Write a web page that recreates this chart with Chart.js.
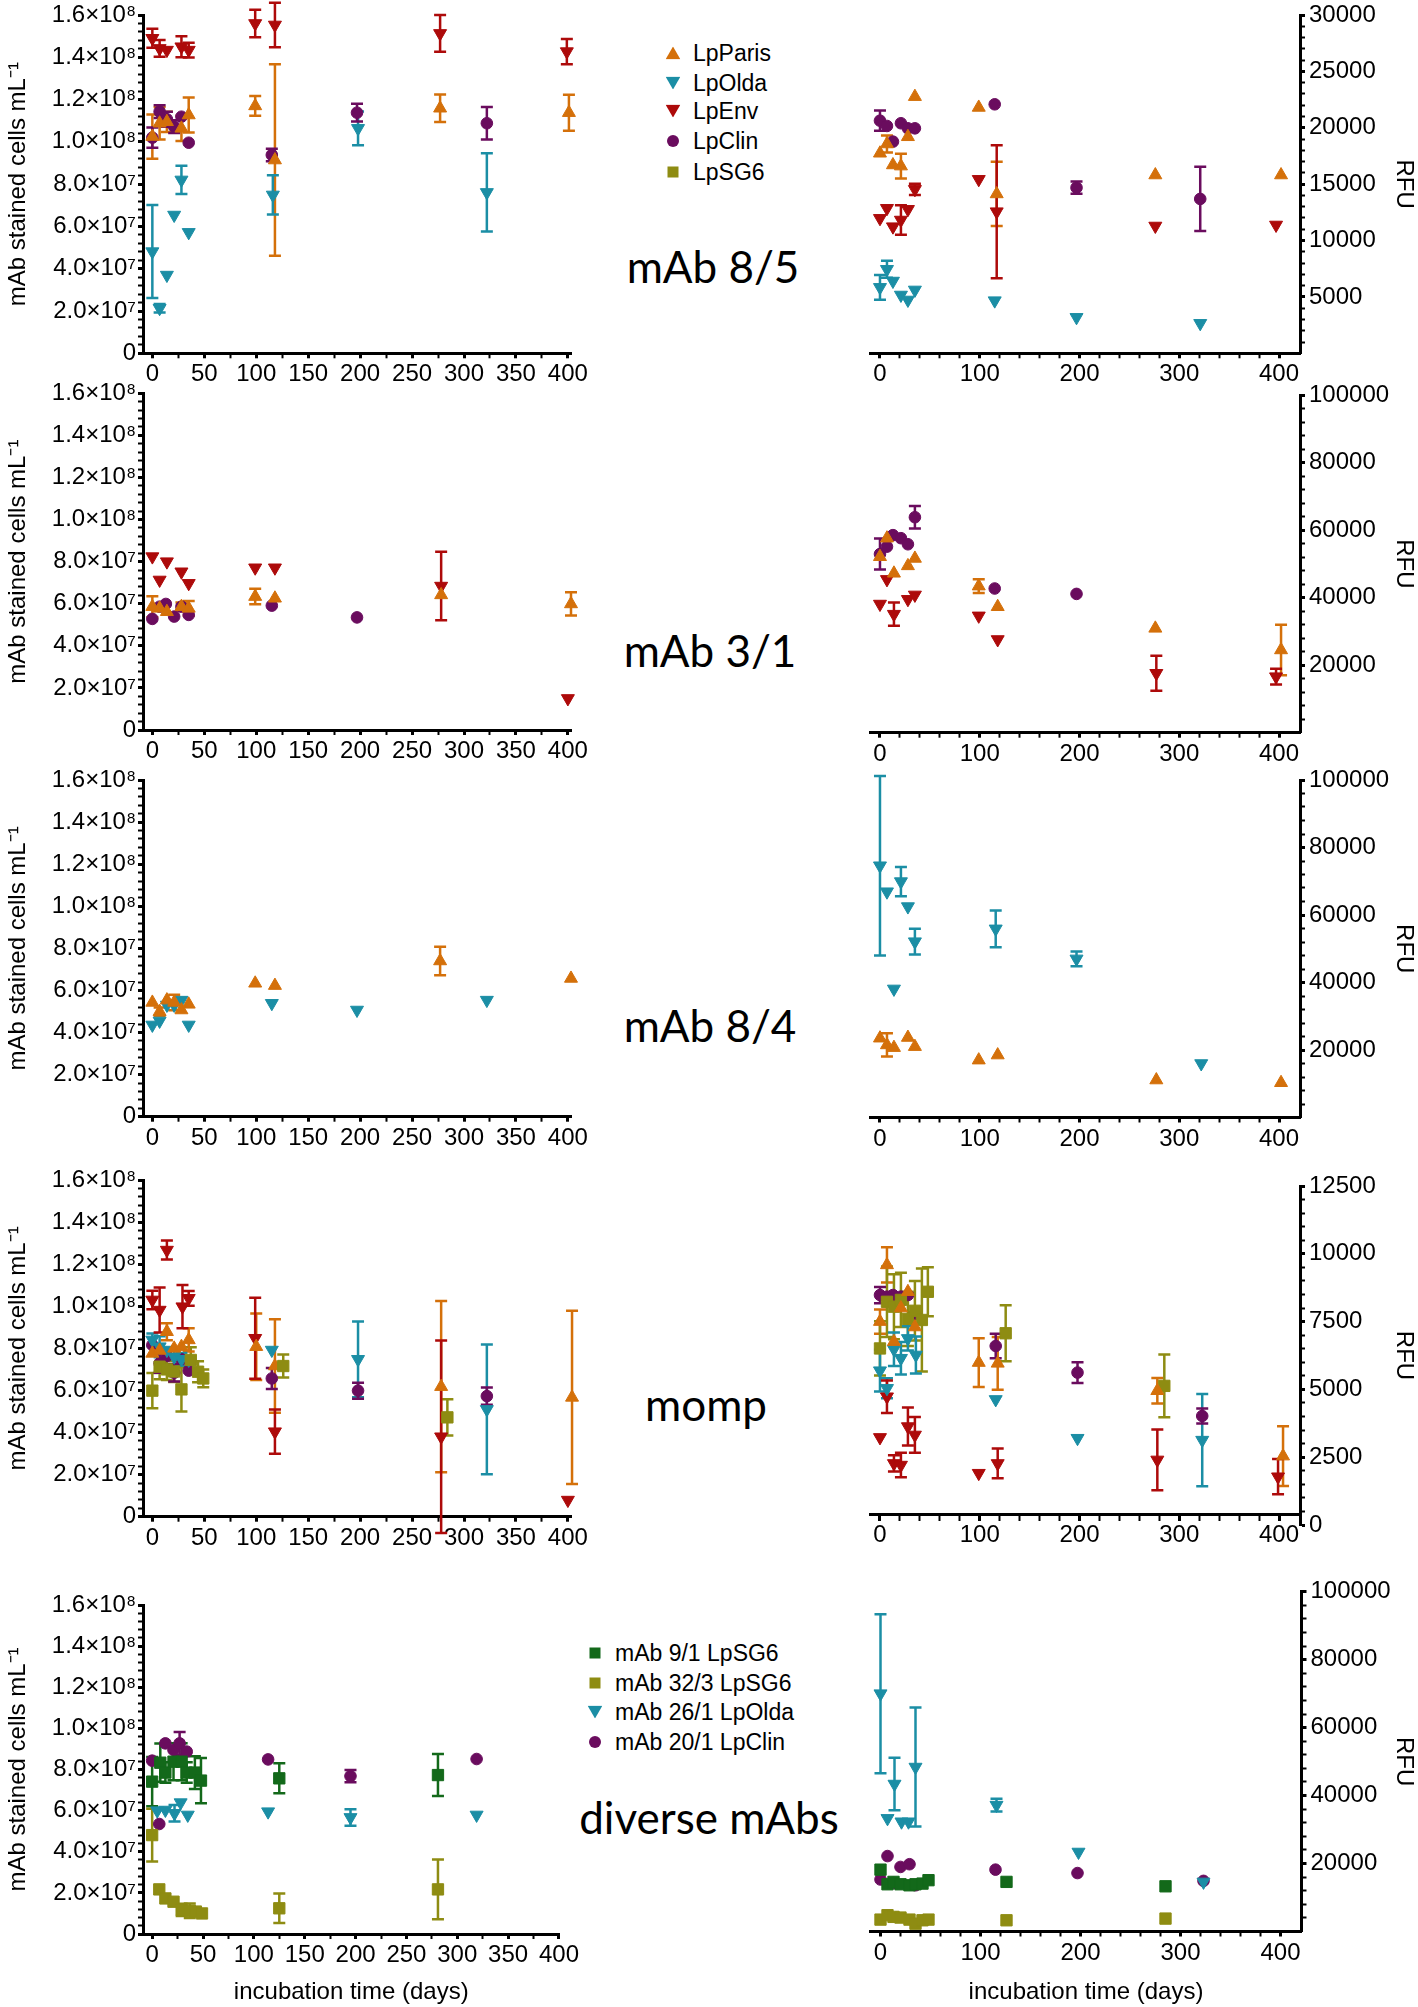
<!DOCTYPE html>
<html>
<head>
<meta charset="utf-8">
<script src="https://cdn.jsdelivr.net/npm/chart.js@4.4.1/dist/chart.umd.min.js"></script>
<style>
  html, body { margin: 0; padding: 0; background: #fff; }
  #page { position: relative; width: 1418px; height: 2007px; overflow: hidden; font-family: "Liberation Sans", Arial, sans-serif; color: #000; }
  #page canvas { position: absolute; }
  .tag { position: absolute; font-family: Lato, "Open Sans", sans-serif; font-size: 44px; line-height: 1; white-space: nowrap; transform: translate(-50%, -0.887em); }
  .leg { position: absolute; font-size: 23px; line-height: 1; white-space: nowrap; transform: translateY(-50%); }
  .sym { position: absolute; transform: translate(-50%, -50%); }
  .up { width: 15px; height: 13px; clip-path: polygon(50% 0, 100% 100%, 0 100%); }
  .down { width: 15px; height: 13px; clip-path: polygon(0 0, 100% 0, 50% 100%); }
  .dot { width: 12px; height: 12px; border-radius: 50%; }
  .sq { width: 11px; height: 11px; }
</style>
</head>
<body>
<div id="page">
  <div class="tag" style="left:713px;top:283px">mAb 8/5</div>
  <div class="tag" style="left:710px;top:667px">mAb 3/1</div>
  <div class="tag" style="left:710px;top:1042px">mAb 8/4</div>
  <div class="tag" style="left:706px;top:1421px">momp</div>
  <div class="tag" style="left:709px;top:1834px">diverse mAbs</div>

  <div class="sym up" style="left:673px;top:53px;background:#D4700A"></div>
  <div class="leg" style="left:693px;top:53px">LpParis</div>
  <div class="sym down" style="left:673px;top:83px;background:#1B8EA5"></div>
  <div class="leg" style="left:693px;top:83px">LpOlda</div>
  <div class="sym down" style="left:673px;top:111px;background:#AD0A0A"></div>
  <div class="leg" style="left:693px;top:111px">LpEnv</div>
  <div class="sym dot" style="left:673px;top:141px;background:#6A0C5E"></div>
  <div class="leg" style="left:693px;top:141px">LpClin</div>
  <div class="sym sq" style="left:673px;top:172px;background:#8E8C12"></div>
  <div class="leg" style="left:693px;top:172px">LpSG6</div>

  <div class="sym sq" style="left:595px;top:1653px;background:#13691A"></div>
  <div class="leg" style="left:615px;top:1653px">mAb 9/1 LpSG6</div>
  <div class="sym sq" style="left:595px;top:1683px;background:#8E8C12"></div>
  <div class="leg" style="left:615px;top:1683px">mAb 32/3 LpSG6</div>
  <div class="sym down" style="left:595px;top:1712px;background:#1B8EA5"></div>
  <div class="leg" style="left:615px;top:1712px">mAb 26/1 LpOlda</div>
  <div class="sym dot" style="left:595px;top:1742px;background:#6A0C5E"></div>
  <div class="leg" style="left:615px;top:1742px">mAb 20/1 LpClin</div>
</div>

<script>
// cells in units of 1e7 per mL, RFU in units of 1000; SD = half length of the error bar

// mAb 8/5 - cells
const p85cParisDay = [0, 7, 14, 28, 35, 99, 118, 277, 401];
const p85cParisVal = [10.25, 10.88, 10.95, 10.64, 11.27, 11.7, 9.14, 11.59, 11.38];
const p85cParisSd  = [1.05, 0.77, 0.48, 0.6, 0.83, 0.47, 4.53, 0.65, 0.85];
const p85cOldaDay  = [0, 7, 14, 21, 28, 35, 116, 198, 322];
const p85cOldaVal  = [4.81, 2.13, 3.7, 6.54, 8.2, 5.72, 7.49, 10.64, 7.61];
const p85cOldaSd   = [2.2, 0.2, 0, 0, 0.67, 0, 0.93, 0.8, 1.85];
const p85cEnvDay   = [0, 7, 14, 28, 35, 99, 118, 277, 399];
const p85cEnvVal   = [14.9, 14.42, 14.34, 14.5, 14.34, 15.6, 15.53, 15.13, 14.27];
const p85cEnvSd    = [0.45, 0.4, 0, 0.5, 0.35, 0.65, 1.05, 0.87, 0.6];
const p85cClinDay  = [0, 7, 14, 21, 28, 35, 115, 197, 322];
const p85cClinVal  = [10.2, 11.43, 11.07, 10.72, 11.19, 9.96, 9.38, 11.38, 10.88];
const p85cClinSd   = [0.48, 0.3, 0.35, 0.3, 0, 0, 0.3, 0.42, 0.77];

// mAb 8/5 - RFU
const p85fParisDay = [0, 7, 13, 21, 28, 35, 99, 117, 276, 402];
const p85fParisVal = [17.74, 18.56, 16.7, 16.6, 19.2, 22.76, 21.8, 14.13, 15.81, 15.81];
const p85fParisSd  = [0, 0.75, 0, 1.1, 0, 0, 0, 2.85, 0, 0];
const p85fOldaDay  = [0, 7, 13, 21, 28, 35, 115, 197, 321];
const p85fOldaVal  = [5.85, 7.45, 6.41, 5.17, 4.73, 5.62, 4.67, 3.19, 2.66];
const p85fOldaSd   = [1.1, 0.75, 0, 0, 0, 0, 0, 0, 0];
const p85fEnvDay   = [0, 7, 13, 21, 28, 35, 99, 117, 276, 397];
const p85fEnvVal   = [11.97, 12.86, 11.23, 11.82, 12.77, 14.54, 15.43, 12.56, 11.29, 11.38];
const p85fEnvSd    = [0, 0, 0, 1.3, 0, 0.5, 0, 5.9, 0, 0];
const p85fClinDay  = [0, 7, 13, 21, 28, 35, 115, 197, 321];
const p85fClinVal  = [20.63, 20.16, 18.77, 20.4, 19.95, 19.95, 22.08, 14.69, 13.69];
const p85fClinSd   = [0.9, 0, 0, 0, 0, 0, 0, 0.55, 2.85];

// mAb 3/1 - cells
const p31cParisDay = [0, 7, 14, 28, 35, 99, 118, 278, 403];
const p31cParisVal = [5.86, 5.78, 5.62, 5.86, 5.78, 6.34, 6.26, 6.42, 5.99];
const p31cParisSd  = [0.5, 0, 0, 0.2, 0.35, 0.37, 0, 0, 0.55];
const p31cEnvDay   = [0, 7, 14, 28, 35, 99, 118, 278, 400];
const p31cEnvVal   = [8.24, 7.13, 8.0, 7.52, 6.97, 7.71, 7.71, 6.84, 1.5];
const p31cEnvSd    = [0, 0, 0, 0, 0, 0, 0, 1.63, 0];
const p31cClinDay  = [0, 7, 13, 21, 28, 35, 115, 197];
const p31cClinVal  = [5.28, 5.86, 5.99, 5.39, 5.86, 5.47, 5.91, 5.35];

// mAb 3/1 - RFU
const p31fParisDay = [0, 7, 14, 28, 35, 99, 118, 276, 402];
const p31fParisVal = [52.1, 57.6, 47.2, 49.4, 51.6, 43.4, 37.3, 30.9, 24.5];
const p31fParisSd  = [0, 0, 0, 0, 0, 2.05, 0, 0, 7.5];
const p31fEnvDay   = [0, 7, 14, 28, 35, 99, 118, 277, 397];
const p31fEnvVal   = [38.1, 45.4, 35.1, 39.5, 40.8, 34.6, 27.6, 17.6, 16.6];
const p31fEnvSd    = [0, 0, 3.45, 0, 0, 0, 0, 5.2, 2.3];
const p31fClinDay  = [0, 7, 13, 21, 28, 35, 115, 197];
const p31fClinVal  = [52.9, 55.1, 58.5, 57.6, 55.8, 63.8, 42.7, 41.1];
const p31fClinSd   = [4.6, 0, 0, 0, 0, 3.35, 0, 0];

// mAb 8/4 - cells
const p84cParisDay = [0, 7, 14, 21, 28, 35, 99, 118, 277, 403];
const p84cParisVal = [5.43, 4.99, 5.54, 5.43, 5.07, 5.34, 6.34, 6.23, 7.4, 6.57];
const p84cParisSd  = [0, 0.2, 0, 0.37, 0, 0, 0, 0, 0.68, 0];
const p84cOldaDay  = [0, 7, 14, 21, 28, 35, 115, 197, 322];
const p84cOldaVal  = [4.36, 4.55, 5.31, 5.31, 5.54, 4.36, 5.39, 5.07, 5.54];

// mAb 8/4 - RFU
const p84fParisDay = [0, 7, 14, 28, 35, 99, 118, 277, 402];
const p84fParisVal = [23.5, 21.5, 20.7, 23.7, 21.0, 17.0, 18.5, 11.1, 10.3];
const p84fParisSd  = [0, 3.45, 0, 0, 0, 0, 0, 0, 0];
const p84fOldaDay  = [0, 7, 14, 21, 28, 35, 116, 197, 322];
const p84fOldaVal  = [74.6, 66.9, 38.1, 69.9, 62.5, 52.1, 55.9, 47.0, 16.0];
const p84fOldaSd   = [26.6, 0, 0, 4.35, 0, 3.8, 5.45, 2.2, 0];

// momp - cells
const pMcParisDay = [0, 7, 14, 21, 28, 35, 100, 118, 278, 404];
const pMcParisVal = [7.76, 7.9, 8.79, 8.0, 8.08, 8.4, 8.08, 7.16, 6.18, 5.67];
const pMcParisSd  = [0, 0, 0.4, 0, 0, 0.55, 1.58, 2.22, 4.07, 4.12];
const pMcOldaDay  = [0, 7, 14, 21, 28, 35, 115, 198, 322];
const pMcOldaVal  = [8.4, 8.08, 7.92, 7.6, 7.48, 7.45, 7.92, 7.48, 5.1];
const pMcOldaSd   = [0.3, 0.5, 0, 0.35, 0.3, 0, 0, 1.8, 3.08];
const pMcEnvDay   = [0, 7, 14, 29, 35, 99, 118, 278, 400];
const pMcEnvVal   = [10.3, 9.82, 12.67, 9.98, 10.38, 8.48, 4.04, 3.8, 0.79];
const pMcEnvSd    = [0.44, 1.07, 0.45, 1.03, 0.35, 1.92, 1.05, 4.57, 0];
const pMcClinDay  = [0, 7, 14, 21, 28, 35, 115, 198, 322];
const pMcClinVal  = [8.16, 7.29, 7.64, 6.84, 7.48, 6.94, 6.57, 5.99, 5.73];
const pMcClinSd   = [0, 0.45, 0, 0.42, 0, 0, 0.5, 0.38, 0.41];
const pMcSg6Day   = [0, 7, 14, 21, 28, 37, 44, 49, 126, 284];
const pMcSg6Val   = [5.99, 7.13, 7.0, 6.9, 6.05, 7.45, 6.89, 6.57, 7.16, 4.72];
const pMcSg6Sd    = [0.84, 0.6, 0.5, 0.5, 1.05, 0.6, 0.5, 0.42, 0.55, 0.86];

// momp - RFU
const pMfParisDay = [0, 7, 14, 21, 28, 35, 99, 118, 278, 404];
const pMfParisVal = [7.5, 9.59, 6.76, 8.0, 8.6, 7.3, 5.99, 5.96, 4.95, 2.54];
const pMfParisSd  = [0.45, 0.65, 0, 0, 0, 0, 0.9, 0.97, 0.47, 1.1];
const pMfOldaDay  = [0, 7, 14, 21, 28, 36, 116, 198, 323];
const pMfOldaVal  = [5.69, 5.04, 6.48, 6.15, 6.88, 6.27, 4.63, 3.2, 3.13];
const pMfOldaSd   = [0.77, 0.37, 0.62, 0.6, 0.45, 0.68, 0, 0, 1.7];
const pMfEnvDay   = [0, 7, 14, 21, 28, 35, 99, 118, 278, 399];
const pMfEnvVal   = [3.23, 4.73, 2.27, 2.21, 3.63, 3.32, 1.91, 2.27, 2.4, 1.78];
const pMfEnvSd    = [0, 0.6, 0.3, 0.45, 0.7, 0.66, 0, 0.55, 1.12, 0.65];
const pMfClinDay  = [0, 7, 13, 21, 28, 35, 116, 198, 323];
const pMfClinVal  = [8.48, 8.42, 8.48, 8.42, 8.48, 7.78, 6.6, 5.62, 4.02];
const pMfClinSd   = [0.3, 0, 0, 0, 0, 0, 0.45, 0.38, 0.28];
const pMfSg6Day   = [0, 7, 14, 21, 28, 35, 42, 48, 126, 285];
const pMfSg6Val   = [6.51, 8.23, 8.05, 8.3, 7.6, 7.9, 7.56, 8.6, 7.07, 5.13];
const pMfSg6Sd    = [1.0, 1.3, 1.2, 1.0, 1.0, 1.1, 1.9, 0.9, 1.03, 1.16];

// diverse mAbs - cells
const pDcG91Day  = [0, 8, 13, 21, 29, 34, 42, 48, 125, 281];
const pDcG91Val  = [7.41, 8.33, 7.85, 8.38, 8.38, 7.85, 7.85, 7.46, 7.57, 7.73];
const pDcG91Sd   = [1.2, 0.93, 0.5, 0.9, 0.9, 0.5, 0.8, 1.1, 0.73, 1.02];
const pDcO323Day = [0, 7, 13, 21, 29, 37, 43, 49, 125, 281];
const pDcO323Val = [4.81, 2.17, 1.73, 1.57, 1.17, 1.13, 1.09, 1.0, 1.25, 2.17];
const pDcO323Sd  = [1.28, 0, 0, 0, 0.3, 0.35, 0, 0, 0.72, 1.45];
const pDcOldaDay = [5, 13, 22, 28, 35, 114, 195, 319];
const pDcOldaVal = [6.0, 6.03, 5.87, 6.39, 5.79, 5.95, 5.67, 5.79];
const pDcOldaSd  = [0, 0, 0.4, 0, 0, 0, 0.4, 0];
const pDcClinDay = [0, 7, 13, 21, 27, 34, 114, 195, 319];
const pDcClinVal = [8.43, 5.35, 9.27, 8.95, 9.27, 8.87, 8.49, 7.68, 8.51];
const pDcClinSd  = [0, 0, 0, 0, 0.55, 0, 0, 0.3, 0];

// diverse mAbs - RFU
const pDfOldaDay = [0, 7, 14, 21, 28, 35, 116, 198, 323];
const pDfOldaVal = [70.0, 33.3, 43.4, 32.3, 32.3, 48.4, 37.2, 23.4, 14.6];
const pDfOldaSd  = [23.4, 0, 7.7, 0, 0, 17.5, 1.9, 0, 0];
const pDfClinDay = [0, 7, 13, 20, 29, 35, 115, 197, 323];
const pDfClinVal = [15.3, 22.2, 14.3, 19.0, 19.8, 13.6, 18.2, 17.2, 14.9];
const pDfG91Day  = [0, 7, 13, 20, 29, 35, 42, 48, 126, 285];
const pDfG91Val  = [18.2, 13.9, 14.6, 13.9, 13.6, 13.9, 14.1, 15.1, 14.6, 13.3];
const pDfO323Day = [0, 7, 13, 20, 29, 35, 42, 48, 126, 285];
const pDfO323Val = [3.5, 4.8, 4.3, 4.1, 3.5, 2.3, 3.3, 3.5, 3.3, 3.8];

// tick labels
const cellTickVals = [0, 2, 4, 6, 8, 10, 12, 14, 16];
const cellTickText = ['0', '2.0×10⁷', '4.0×10⁷', '6.0×10⁷', '8.0×10⁷', '1.0×10⁸', '1.2×10⁸', '1.4×10⁸', '1.6×10⁸'];
const leftDayVals = [0, 50, 100, 150, 200, 250, 300, 350, 400];
const leftDayText = ['0', '50', '100', '150', '200', '250', '300', '350', '400'];
const rightDayVals = [0, 100, 200, 300, 400];
const rightDayText = ['0', '100', '200', '300', '400'];
const rfu85Vals = [5, 10, 15, 20, 25, 30];
const rfu85Text = ['5000', '10000', '15000', '20000', '25000', '30000'];
const rfu100Vals = [20, 40, 60, 80, 100];
const rfu100Text = ['20000', '40000', '60000', '80000', '100000'];
const rfuMompVals = [0, 2.5, 5, 7.5, 10, 12.5];
const rfuMompText = ['0', '2500', '5000', '7500', '10000', '12500'];

// ---------- styles ----------
const FONT = '"Liberation Sans", Arial, sans-serif';
Chart.defaults.font.family = FONT;
const COL = { paris: '#D4700A', olda: '#1B8EA5', env: '#AD0A0A', clin: '#6A0C5E', sg6: '#8E8C12', g91: '#13691A' };
const MARK = {
  paris: ['triangle', 0, 7.5], olda: ['triangle', 180, 7.5], env: ['triangle', 180, 7.5],
  clin: ['circle', 0, 5.8], sg6: ['rect', 0, 8], g91: ['rect', 0, 8]
};
const TICK_FONT = { family: FONT, size: 24, lineHeight: 1.2 };
const TITLE_FONT = { family: FONT, size: 24, lineHeight: 1.2 };
const GRID = { drawOnChartArea: false, drawTicks: true, tickLength: 5, tickColor: '#000',
  tickWidth: c => (c.tick && c.tick.major ? 3 : 2) };
const BORDER = { display: true, color: '#000', width: 3 };

function series(key, day, val, sd) {
  const [ps, rot, r] = MARK[key];
  return {
    data: day.map((d, i) => ({ x: d, y: val[i] })), sd: sd || null,
    pointStyle: ps, pointRotation: rot, pointRadius: r, pointHoverRadius: r,
    pointBackgroundColor: COL[key], pointBorderColor: COL[key], pointBorderWidth: 1,
    showLine: false, clip: false
  };
}

function tickSet(vals, text, step, from, to) {
  const lab = new Map(vals.map((v, i) => [Math.round(v * 1000), text[i]]));
  const ticks = [];
  for (let k = 0; ; k++) {
    const v = from + k * step;
    if (v > to + 1e-6) break;
    ticks.push({ value: v, major: lab.has(Math.round(v * 1000)) });
  }
  return { ticks, label: v => lab.get(Math.round(v * 1000)) ?? '' };
}

// error bars drawn through the chart's own scales
const errorBars = {
  id: 'errorBars',
  beforeDatasetsDraw(chart) {
    const { ctx, scales: { x, y } } = chart;
    ctx.save();
    ctx.lineWidth = 2.5;
    chart.data.datasets.forEach(ds => {
      if (!ds.sd) return;
      ctx.strokeStyle = ds.pointBorderColor;
      ds.data.forEach((p, i) => {
        const s = ds.sd[i];
        if (!s) return;
        const px = x.getPixelForValue(p.x);
        const top = y.getPixelForValue(p.y + s);
        const bot = y.getPixelForValue(p.y - s);
        ctx.beginPath();
        ctx.moveTo(px, top); ctx.lineTo(px, bot);
        ctx.moveTo(px - 6, top); ctx.lineTo(px + 6, top);
        ctx.moveTo(px - 6, bot); ctx.lineTo(px + 6, bot);
        ctx.stroke();
      });
    });
    ctx.restore();
  }
};

function panel(p) {
  const page = document.getElementById('page');
  const cv = document.createElement('canvas');
  const a = p.area;
  const xH = p.xTitle ? 2007 - a.b : 45;
  let cx, cw, yW, padL, padR;
  if (p.side === 'left') {
    cx = 0; cw = 600; yW = a.l; padL = 0; padR = cw - a.r;
  } else {
    cx = Math.floor(a.l - 10); cw = 1418 - cx; yW = 1418 - a.r; padL = a.l - cx; padR = 0;
  }
  const cy = Math.floor(a.t - 15);
  const below = p.xAt == null ? xH : 0;
  const extra = p.xAt == null ? 0 : 42;
  const ch = Math.ceil(a.b + below + extra - cy);
  const padB = ch - (a.b - cy) - below;
  cv.width = cw; cv.height = ch;
  cv.style.left = cx + 'px'; cv.style.top = cy + 'px';
  page.appendChild(cv);

  const xt = p.xTicks, yt = p.yTicks;
  new Chart(cv, {
    type: 'scatter',
    data: { datasets: p.datasets },
    options: {
      responsive: false, animation: false, devicePixelRatio: 1, events: [],
      layout: { padding: { left: padL, right: padR, top: a.t - cy, bottom: padB } },
      plugins: { legend: { display: false }, tooltip: { enabled: false } },
      scales: {
        x: {
          type: 'linear', min: p.xMin, max: p.xMax,
          position: p.xAt == null ? 'bottom' : { y: p.xAt },
          afterBuildTicks: s => { s.ticks = xt.ticks.map(t => ({ ...t })); },
          afterFit: s => { s.height = xH; s.paddingLeft = 0; s.paddingRight = 0; },
          ticks: { autoSkip: false, maxRotation: 0, padding: 2, color: '#000', font: TICK_FONT, callback: v => xt.label(v) },
          grid: GRID, border: BORDER,
          title: { display: !!p.xTitle, text: p.xTitle || '', color: '#000', font: TITLE_FONT, padding: { top: 0, bottom: 0 } }
        },
        y: {
          type: 'linear', position: p.side, min: 0, max: p.yMax,
          afterBuildTicks: s => { s.ticks = yt.ticks.map(t => ({ ...t })); },
          afterFit: s => { s.width = yW; s.paddingTop = 0; s.paddingBottom = 0; },
          ticks: { autoSkip: false, padding: p.side === 'left' ? 2 : 4, color: '#000', font: TICK_FONT, callback: v => yt.label(v) },
          grid: GRID, border: BORDER,
          title: { display: true, text: p.yTitle, color: '#000', font: TITLE_FONT, padding: { top: p.side === 'left' ? 4 : 0, bottom: 0 } }
        }
      }
    },
    plugins: [errorBars]
  });
}

const CELLS = 'mAb stained cells mL⁻¹';
const DAYS = 'incubation time (days)';
const cellTicks = tickSet(cellTickVals, cellTickText, 0.4, 0, 16);
const leftDays = tickSet(leftDayVals, leftDayText, 25, 0, 400);
const rightDays = tickSet(rightDayVals, rightDayText, 20, 0, 400);
const rfu85Ticks = tickSet(rfu85Vals, rfu85Text, 1, 1, 30);
const rfu100Ticks = tickSet(rfu100Vals, rfu100Text, 4, 4, 100);
const rfuMompTicks = tickSet(rfuMompVals, rfuMompText, 0.5, 0, 12.5);

const leftBase = { side: 'left', xMin: -9, xMax: 403, xTicks: leftDays, yTicks: cellTicks, yMax: 16, yTitle: CELLS };
const rightBase = { side: 'right', xMin: -10, xMax: 421, xTicks: rightDays, yTitle: 'RFU' };

// mAb 8/5
panel({ ...leftBase, area: { l: 143, r: 571, t: 15, b: 353.3 }, datasets: [
  series('paris', p85cParisDay, p85cParisVal, p85cParisSd),
  series('olda', p85cOldaDay, p85cOldaVal, p85cOldaSd),
  series('env', p85cEnvDay, p85cEnvVal, p85cEnvSd),
  series('clin', p85cClinDay, p85cClinVal, p85cClinSd)] });
panel({ ...rightBase, area: { l: 870, r: 1300, t: 15, b: 353.3 }, yMax: 30, yTicks: rfu85Ticks, datasets: [
  series('paris', p85fParisDay, p85fParisVal, p85fParisSd),
  series('olda', p85fOldaDay, p85fOldaVal, p85fOldaSd),
  series('env', p85fEnvDay, p85fEnvVal, p85fEnvSd),
  series('clin', p85fClinDay, p85fClinVal, p85fClinSd)] });

// mAb 3/1
panel({ ...leftBase, area: { l: 143, r: 571, t: 393.3, b: 730 }, datasets: [
  series('paris', p31cParisDay, p31cParisVal, p31cParisSd),
  series('env', p31cEnvDay, p31cEnvVal, p31cEnvSd),
  series('clin', p31cClinDay, p31cClinVal)] });
panel({ ...rightBase, area: { l: 870, r: 1300, t: 395, b: 732.7 }, yMax: 100, yTicks: rfu100Ticks, datasets: [
  series('paris', p31fParisDay, p31fParisVal, p31fParisSd),
  series('env', p31fEnvDay, p31fEnvVal, p31fEnvSd),
  series('clin', p31fClinDay, p31fClinVal, p31fClinSd)] });

// mAb 8/4
panel({ ...leftBase, area: { l: 143, r: 571, t: 780, b: 1116.7 }, datasets: [
  series('paris', p84cParisDay, p84cParisVal, p84cParisSd),
  series('olda', p84cOldaDay, p84cOldaVal)] });
panel({ ...rightBase, area: { l: 870, r: 1300, t: 780, b: 1117.5 }, yMax: 100, yTicks: rfu100Ticks, datasets: [
  series('paris', p84fParisDay, p84fParisVal, p84fParisSd),
  series('olda', p84fOldaDay, p84fOldaVal, p84fOldaSd)] });

// momp
panel({ ...leftBase, area: { l: 143, r: 571, t: 1180, b: 1516.7 }, datasets: [
  series('sg6', pMcSg6Day, pMcSg6Val, pMcSg6Sd),
  series('paris', pMcParisDay, pMcParisVal, pMcParisSd),
  series('olda', pMcOldaDay, pMcOldaVal, pMcOldaSd),
  series('clin', pMcClinDay, pMcClinVal, pMcClinSd),
  series('env', pMcEnvDay, pMcEnvVal, pMcEnvSd)] });
panel({ ...rightBase, area: { l: 870, r: 1300, t: 1186, b: 1525 }, xAt: 0.4, yMax: 12.5, yTicks: rfuMompTicks, datasets: [
  series('paris', pMfParisDay, pMfParisVal, pMfParisSd),
  series('sg6', pMfSg6Day, pMfSg6Val, pMfSg6Sd),
  series('olda', pMfOldaDay, pMfOldaVal, pMfOldaSd),
  series('clin', pMfClinDay, pMfClinVal, pMfClinSd),
  series('env', pMfEnvDay, pMfEnvVal, pMfEnvSd)] });

// diverse mAbs
panel({ ...leftBase, xMax: 400.5, xTitle: DAYS, area: { l: 143, r: 559.5, t: 1605, b: 1934 }, datasets: [
  series('g91', pDcG91Day, pDcG91Val, pDcG91Sd),
  series('sg6', pDcO323Day, pDcO323Val, pDcO323Sd),
  series('olda', pDcOldaDay, pDcOldaVal, pDcOldaSd),
  series('clin', pDcClinDay, pDcClinVal, pDcClinSd)] });
panel({ ...rightBase, xTitle: DAYS, area: { l: 870.5, r: 1301.5, t: 1591.7, b: 1931.5 }, yMax: 100, yTicks: rfu100Ticks, datasets: [
  series('olda', pDfOldaDay, pDfOldaVal, pDfOldaSd),
  series('g91', pDfG91Day, pDfG91Val),
  series('clin', pDfClinDay, pDfClinVal),
  series('sg6', pDfO323Day, pDfO323Val)] });
</script>
</body>
</html>
